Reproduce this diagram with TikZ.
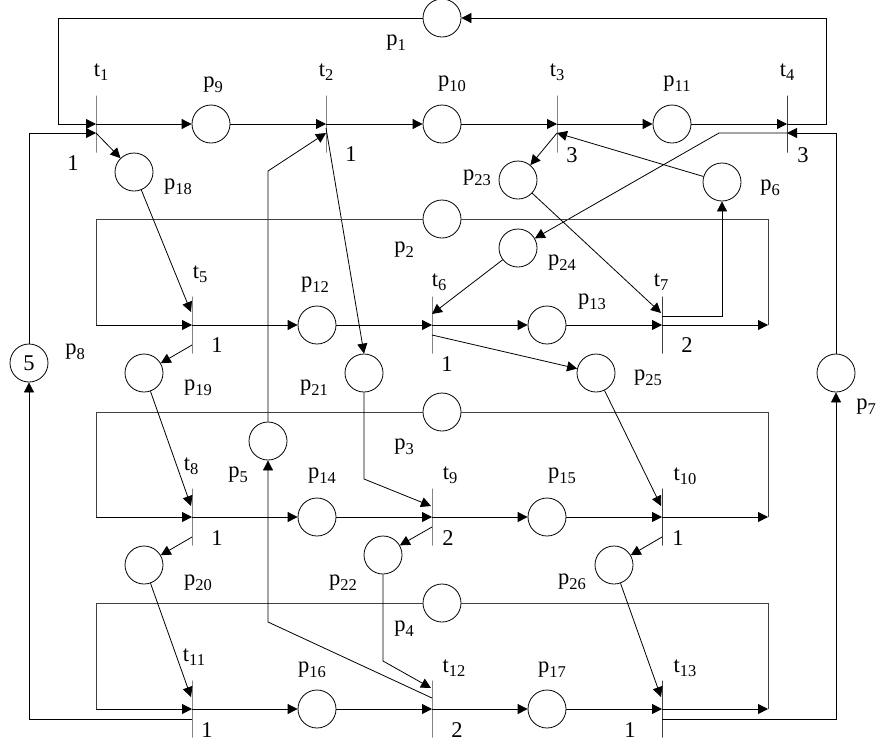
\documentclass[tikz,border=0pt]{standalone}
\usepackage{fontspec}
\setmainfont{Liberation Serif}
\usetikzlibrary{arrows.meta,calc}
\newcommand\sbs[1]{\raisebox{-0.2em}{\fontsize{16.5}{16.5}\selectfont #1}}
\begin{document}
\begin{tikzpicture}[x=1pt,y=-1pt,
  place/.style={circle,draw,minimum size=38pt,inner sep=0pt,line width=0.8pt},
  trans/.style={draw=black!75,line width=0.9pt,minimum width=0pt,minimum height=57pt,inner sep=0pt,outer sep=0pt},
  lbl/.style={inner sep=0pt,font=\fontsize{22.5}{26}\selectfont},
  flow/.style={line width=0.8pt,-{Triangle[length=10pt,width=10pt]}},
  plainln/.style={line width=0.8pt},
  loopln/.style={draw=black!75,line width=0.8pt}]
\useasboundingbox (0,0) rectangle (877,745);

% transitions
\node[trans] (t1) at (96,124) {};
\node[trans] (t2) at (326,124) {};
\node[trans] (t3) at (557,124) {};
\node[trans] (t4) at (787,124) {};
\node[trans] (t5) at (192,325) {};
\node[trans] (t6) at (432,325) {};
\node[trans] (t7) at (662,325) {};
\node[trans] (t8) at (192,517) {};
\node[trans] (t9) at (432,517) {};
\node[trans] (t10) at (662,517) {};
\node[trans] (t11) at (192,709) {};
\node[trans] (t12) at (432,709) {};
\node[trans] (t13) at (662,709) {};

% places
\node[place] (p1) at (442,18) {};
\node[place] (p2) at (442,219) {};
\node[place] (p3) at (442,412) {};
\node[place] (p4) at (442,603) {};
\node[place] (p5) at (268,441) {};
\node[place] (p6) at (722,182) {};
\node[place] (p7) at (836,373) {};
\node[place,font=\fontsize{22.5}{26}\selectfont] (p8) at (29,363) {5};
\node[place] (p9) at (211,124) {};
\node[place] (p10) at (442,124) {};
\node[place] (p11) at (672,124) {};
\node[place] (p12) at (317,325) {};
\node[place] (p13) at (547,325) {};
\node[place] (p14) at (317,517) {};
\node[place] (p15) at (547,517) {};
\node[place] (p16) at (317,709) {};
\node[place] (p17) at (547,709) {};
\node[place] (p18) at (134,172) {};
\node[place] (p19) at (144,373) {};
\node[place] (p20) at (144,565) {};
\node[place] (p21) at (364,373) {};
\node[place] (p22) at (383,555) {};
\node[place] (p23) at (518,180) {};
\node[place] (p24) at (518,248) {};
\node[place] (p25) at (596,373) {};
\node[place] (p26) at (614,565) {};

% row 1
\draw[flow] (p1.west) -- (58,18) -- (58,124) -- (t1);
\draw[flow] (t1) -- (p9);
\draw[flow] (p9) -- (t2);
\draw[flow] (t2) -- (p10);
\draw[flow] (p10) -- (t3);
\draw[flow] (t3) -- (p11);
\draw[flow] (p11) -- (t4);
\draw[flow] (t4) -- (826,124) -- (826,18) -- (p1.east);
\draw[flow] (p8.north) -- (29,133) -- ($(t1)+(0,9)$);
\draw[flow] ($(t1)+(0,9)$) -- (p18);
\draw[flow] (p5.north) -- (268,171) -- ($(t2)+(0,9)$);
\draw[flow] ($(t2)+(0,4)$) -- (p21.north);
\draw[flow] ($(t3)+(0,9)$) -- (p23);
\draw[flow] (p6) -- ($(t3)+(0,9)$);
\draw[flow] (p7.north) -- (836,133) -- ($(t4)+(0,9)$);
\draw[flow] ($(t4)+(0,9)$) -- (719,133) -- (p24);

% row 2
\draw[loopln] (p2.west) -- (96,219) -- (96,325);
\draw[flow] (96,325) -- (t5);
\draw[flow] (t5) -- (p12);
\draw[flow] (p12) -- (t6);
\draw[flow] (t6) -- (p13);
\draw[flow] (p13) -- (t7);
\draw[flow] (t7) -- (768,325);
\draw[loopln] (768,325) -- (768,219) -- (p2.east);
\draw[flow] (p18) -- ($(t5)+(-1,-13)$);
\draw[flow] ($(t5)+(0,20)$) -- (p19);
\draw[flow] (p24) -- ($(t6)+(0,-11)$);
\draw[flow] ($(t6)+(0,10)$) -- (p25);
\draw[flow] (p23) -- ($(t7)+(-1,-12)$);
\draw[flow] ($(t7)+(0,-9)$) -| (p6.south);

% row 3
\draw[loopln] (p3.west) -- (96,412) -- (96,517);
\draw[flow] (96,517) -- (t8);
\draw[flow] (t8) -- (p14);
\draw[flow] (p14) -- (t9);
\draw[flow] (t9) -- (p15);
\draw[flow] (p15) -- (t10);
\draw[flow] (t10) -- (768,517);
\draw[loopln] (768,517) -- (768,412) -- (p3.east);
\draw[flow] (p19) -- ($(t8)+(-1,-11)$);
\draw[flow] ($(t8)+(0,20)$) -- (p20);
\draw[flow] (p21.south) -- (364,479) -- ($(t9)+(-1,-11)$);
\draw[flow] ($(t9)+(0,10)$) -- (p22);
\draw[flow] (p25) -- ($(t10)+(-1,-11)$);
\draw[flow] ($(t10)+(0,20)$) -- (p26);

% row 4
\draw[loopln] (p4.west) -- (96,603) -- (96,709);
\draw[flow] (96,709) -- (t11);
\draw[flow] (t11) -- (p16);
\draw[flow] (p16) -- (t12);
\draw[flow] (t12) -- (p17);
\draw[flow] (p17) -- (t13);
\draw[flow] (t13) -- (768,709);
\draw[loopln] (768,709) -- (768,603) -- (p4.east);
\draw[flow] (p20) -- ($(t11)+(-1,-12)$);
\draw[flow] ($(t11)+(0,10)$) -- (29,719) -- (p8.south);
\draw[flow] (p22.south) -- (383,661) -- ($(t12)+(-1,-21)$);
\draw[flow] ($(t12)+(0,-11)$) -- (268,622) -- (p5.south);
\draw[flow] (p26) -- ($(t13)+(-1,-12)$);
\draw[flow] ($(t13)+(0,10)$) -- (836,719) -- (p7.south);

% transition labels
\node[lbl] at (101,72) {t\sbs{1}};
\node[lbl] at (326,72) {t\sbs{2}};
\node[lbl] at (557,72) {t\sbs{3}};
\node[lbl] at (787,72) {t\sbs{4}};
\node[lbl] at (200,274) {t\sbs{5}};
\node[lbl] at (439,282) {t\sbs{6}};
\node[lbl] at (661,282) {t\sbs{7}};
\node[lbl] at (191,466) {t\sbs{8}};
\node[lbl] at (450,475) {t\sbs{9}};
\node[lbl] at (685,476) {t\sbs{10}};
\node[lbl] at (194,657) {t\sbs{11}};
\node[lbl] at (454,668) {t\sbs{12}};
\node[lbl] at (685,668) {t\sbs{13}};

% place labels
\node[lbl] at (396,43) {p\sbs{1}};
\node[lbl] at (404,250) {p\sbs{2}};
\node[lbl] at (404,447) {p\sbs{3}};
\node[lbl] at (404,629) {p\sbs{4}};
\node[lbl] at (238,475) {p\sbs{5}};
\node[lbl] at (770,188) {p\sbs{6}};
\node[lbl] at (866,407) {p\sbs{7}};
\node[lbl] at (75,352) {p\sbs{8}};
\node[lbl] at (213,85) {p\sbs{9}};
\node[lbl] at (452,84) {p\sbs{10}};
\node[lbl] at (677,84) {p\sbs{11}};
\node[lbl] at (315,285) {p\sbs{12}};
\node[lbl] at (592,302) {p\sbs{13}};
\node[lbl] at (322,476) {p\sbs{14}};
\node[lbl] at (562,476) {p\sbs{15}};
\node[lbl] at (312,670) {p\sbs{16}};
\node[lbl] at (552,670) {p\sbs{17}};
\node[lbl] at (178,187) {p\sbs{18}};
\node[lbl] at (198,388) {p\sbs{19}};
\node[lbl] at (198,583) {p\sbs{20}};
\node[lbl] at (314,388) {p\sbs{21}};
\node[lbl] at (343,583) {p\sbs{22}};
\node[lbl] at (477,178) {p\sbs{23}};
\node[lbl] at (562,263) {p\sbs{24}};
\node[lbl] at (648,378) {p\sbs{25}};
\node[lbl] at (572,582) {p\sbs{26}};

% weights
\node[lbl] at (73,163) {1};
\node[lbl] at (351,154) {1};
\node[lbl] at (572,155) {3};
\node[lbl] at (803,155) {3};
\node[lbl] at (217,345) {1};
\node[lbl] at (447,364) {1};
\node[lbl] at (687,345) {2};
\node[lbl] at (217,538) {1};
\node[lbl] at (448,538) {2};
\node[lbl] at (678,538) {1};
\node[lbl] at (207,730) {1};
\node[lbl] at (457,730) {2};
\node[lbl] at (630,730) {1};
\end{tikzpicture}
\end{document}
